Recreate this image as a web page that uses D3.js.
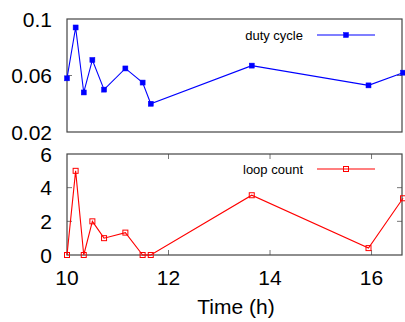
<!DOCTYPE html>
<html>
<head>
<meta charset="utf-8">
<script src="https://cdn.jsdelivr.net/npm/d3@7"></script>
<style>
  body { margin: 0; background: #fff; }
  svg { display: block; font-family: "Liberation Sans", Arial, sans-serif; }
</style>
</head>
<body>
<svg width="405" height="322"></svg>
<script>
// time of each sample (hours)
var hours = [10.0, 10.17, 10.33, 10.5, 10.73, 11.15, 11.49, 11.65, 13.64, 15.94, 16.62];
var dutyCycle = [0.058, 0.094, 0.048, 0.071, 0.050, 0.065, 0.055, 0.040, 0.067, 0.053, 0.062];
var loopCount = [0, 5, 0, 2, 1, 1.33, 0, 0, 3.55, 0.41, 3.37];

var xTicks = [10, 12, 14, 16];
var dutyTicks = [0.02, 0.06, 0.1];
var loopTicks = [0, 2, 4, 6];

var svg = d3.select("svg");
var left = 67, right = 402;

var x = d3.scaleLinear().domain([10, 16.6]).range([left, right]);

var panels = [
  { name: "duty cycle", values: dutyCycle, ticks: dutyTicks, domain: [0.02, 0.1],
    top: 19, bottom: 132, color: "#0000ff", filled: true, fmt: function(d) { return d3.format("~g")(d); },
    xticks: false, legendY: 35 },
  { name: "loop count", values: loopCount, ticks: loopTicks, domain: [0, 6],
    top: 154, bottom: 255, color: "#ff0000", filled: false, fmt: function(d) { return d; },
    xticks: true, legendY: 169 }
];

panels.forEach(function(p) {
  var y = d3.scaleLinear().domain(p.domain).range([p.bottom, p.top]);
  var g = svg.append("g");

  // inward ticks
  var tk = g.append("g").attr("stroke", "#777").attr("stroke-width", 1);
  p.ticks.forEach(function(t) {
    if (t === p.domain[0] || t === p.domain[1]) return;
    tk.append("line").attr("x1", left).attr("x2", left + 5).attr("y1", y(t)).attr("y2", y(t));
    tk.append("line").attr("x1", right).attr("x2", right - 5).attr("y1", y(t)).attr("y2", y(t));
  });
  if (p.xticks) {
    xTicks.forEach(function(t) {
      if (t === 10) return;
      tk.append("line").attr("x1", x(t)).attr("x2", x(t)).attr("y1", p.bottom).attr("y2", p.bottom - 5);
      tk.append("line").attr("x1", x(t)).attr("x2", x(t)).attr("y1", p.top).attr("y2", p.top + 5);
    });
  }

  // frame
  g.append("rect")
    .attr("x", left).attr("y", p.top)
    .attr("width", right - left).attr("height", p.bottom - p.top)
    .attr("fill", "none").attr("stroke", "#444").attr("stroke-width", 1.2);

  // y labels
  g.selectAll(".ylab").data(p.ticks).enter().append("text")
    .attr("x", 52).attr("y", function(d) { return y(d); })
    .attr("dy", "0.36em")
    .attr("text-anchor", "end")
    .attr("font-size", 21)
    .text(p.fmt);

  var line = d3.line()
    .x(function(d, i) { return x(hours[i]); })
    .y(function(d) { return y(d); });

  g.append("path").datum(p.values)
    .attr("d", line)
    .attr("fill", "none")
    .attr("stroke", p.color)
    .attr("stroke-width", 1.1);

  var s = 5;
  g.selectAll(".pt").data(p.values).enter().append("rect")
    .attr("x", function(d, i) { return x(hours[i]) - s / 2; })
    .attr("y", function(d) { return y(d) - s / 2; })
    .attr("width", s).attr("height", s)
    .attr("fill", p.filled ? p.color : "none")
    .attr("stroke", p.color)
    .attr("stroke-width", p.filled ? 0.5 : 1);

  // legend
  g.append("text")
    .attr("x", 303).attr("y", p.legendY + 5)
    .attr("text-anchor", "end")
    .attr("font-size", 13)
    .text(p.name);
  g.append("line")
    .attr("x1", 317).attr("x2", 375).attr("y1", p.legendY).attr("y2", p.legendY)
    .attr("stroke", p.color).attr("stroke-width", 1.1);
  g.append("rect")
    .attr("x", 346 - s / 2).attr("y", p.legendY - s / 2)
    .attr("width", s).attr("height", s)
    .attr("fill", p.filled ? p.color : "none")
    .attr("stroke", p.color)
    .attr("stroke-width", p.filled ? 0.5 : 1);
});

// x labels under bottom panel
svg.append("g").selectAll("text").data(xTicks).enter().append("text")
  .attr("x", function(d) { return x(d); })
  .attr("y", 285)
  .attr("text-anchor", "middle")
  .attr("font-size", 21)
  .text(function(d) { return d; });

svg.append("text")
  .attr("x", 236).attr("y", 314)
  .attr("text-anchor", "middle")
  .attr("font-size", 21)
  .text("Time (h)");
</script>
</body>
</html>
